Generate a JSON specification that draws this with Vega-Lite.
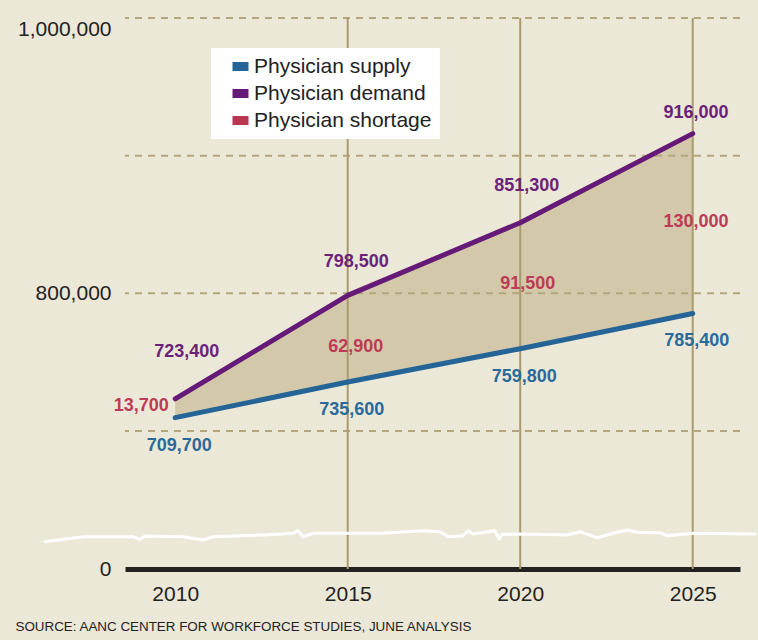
{
  "$schema": "https://vega.github.io/schema/vega-lite/v6.json",
  "width": 615,
  "height": 551,
  "autosize": {"type": "none"},
  "padding": {"left": 125, "top": 18, "right": 18, "bottom": 71},
  "background": "#ece8d7",
  "config": {
    "font": "Liberation Sans",
    "view": {"stroke": null}
  },
  "datasets": {
    "main": [
      {"year": 2010, "supply": 709700, "demand": 723400, "shortage": 13700},
      {"year": 2015, "supply": 735600, "demand": 798500, "shortage": 62900},
      {"year": 2020, "supply": 759800, "demand": 851300, "shortage": 91500},
      {"year": 2025, "supply": 785400, "demand": 916000, "shortage": 130000}
    ],
    "hgrid": [{"value": 700000}, {"value": 800000}, {"value": 900000}, {"value": 1000000}],
    "vgrid": [{"year": 2015}, {"year": 2020}, {"year": 2025}],
    "wave": [
      {"year": 2006.23, "value": 138500},
      {"year": 2007.33, "value": 163800},
      {"year": 2008.78, "value": 163800},
      {"year": 2008.98, "value": 150600},
      {"year": 2009.13, "value": 167400},
      {"year": 2010.23, "value": 163800},
      {"year": 2010.81, "value": 147100},
      {"year": 2011.10, "value": 163800},
      {"year": 2012.55, "value": 172500},
      {"year": 2012.95, "value": 176000},
      {"year": 2013.42, "value": 181100},
      {"year": 2013.56, "value": 194300},
      {"year": 2013.71, "value": 163800},
      {"year": 2014.00, "value": 181100},
      {"year": 2015.94, "value": 181100},
      {"year": 2017.18, "value": 194300},
      {"year": 2017.68, "value": 189200},
      {"year": 2017.91, "value": 163800},
      {"year": 2018.34, "value": 167400},
      {"year": 2018.49, "value": 194300},
      {"year": 2018.63, "value": 177500},
      {"year": 2019.27, "value": 194300},
      {"year": 2019.39, "value": 150600},
      {"year": 2019.47, "value": 176000},
      {"year": 2020.00, "value": 177500},
      {"year": 2021.36, "value": 172500},
      {"year": 2021.73, "value": 189200},
      {"year": 2022.23, "value": 158800},
      {"year": 2022.69, "value": 181100},
      {"year": 2023.10, "value": 197800},
      {"year": 2023.39, "value": 186200},
      {"year": 2024.05, "value": 184100},
      {"year": 2024.26, "value": 168900},
      {"year": 2025.01, "value": 181100},
      {"year": 2026.81, "value": 177500}
    ]
  },
  "layer": [
    {
      "data": {"name": "main"},
      "mark": {"type": "area", "color": "#d3c9aa"},
      "encoding": {
        "x": {
          "field": "year",
          "type": "quantitative",
          "scale": {"type": "linear", "domain": [2008.545, 2026.37], "nice": false, "zero": false},
          "axis": {
            "values": [2010, 2015, 2020, 2025],
            "format": "d",
            "labelExpr": "format(datum.value, 'd')",
            "grid": false,
            "ticks": false,
            "domain": true,
            "domainColor": "#222222",
            "domainWidth": 5,
            "labelPadding": 14,
            "labelFontSize": 21,
            "labelColor": "#222222",
            "title": "SOURCE: AANC CENTER FOR WORKFORCE STUDIES, JUNE ANALYSIS",
            "titleAnchor": "start",
            "titleAlign": "left",
            "titleBaseline": "middle",
            "titleX": -110,
            "titleY": 57,
            "titleFontSize": 13.4,
            "titleFontWeight": "normal",
            "titleColor": "#222222"
          }
        },
        "y": {
          "field": "demand",
          "type": "quantitative",
          "scale": {"domain": [0, 700000, 1000000], "range": [551, 413, 0], "nice": false, "zero": false},
          "axis": {
            "values": [0, 800000, 1000000],
            "format": ",",
            "labelExpr": "format(datum.value, ',')",
            "grid": false,
            "domain": false,
            "ticks": false,
            "labelPadding": 14,
            "labelFontSize": 21,
            "labelColor": "#222222",
            "labelBaseline": {"condition": {"test": "datum.value == 1000000", "value": "top"}, "value": "middle"},
            "title": null
          }
        },
        "y2": {"field": "supply"}
      }
    },
    {
      "data": {"name": "hgrid"},
      "mark": {"type": "rule", "color": "#b2a67f", "strokeWidth": 2, "strokeDash": [7, 6]},
      "encoding": {"y": {"field": "value", "type": "quantitative"}}
    },
    {
      "data": {"name": "vgrid"},
      "mark": {"type": "rule", "color": "#a99b6f", "strokeWidth": 2},
      "encoding": {"x": {"field": "year", "type": "quantitative"}}
    },
    {
      "data": {"name": "main"},
      "transform": [{"fold": ["supply", "demand"], "as": ["series", "value"]}],
      "mark": {"type": "line", "strokeWidth": 5, "strokeCap": "round", "strokeJoin": "round"},
      "encoding": {
        "x": {"field": "year", "type": "quantitative"},
        "y": {"field": "value", "type": "quantitative"},
        "color": {
          "field": "series",
          "type": "nominal",
          "scale": {"domain": ["supply", "demand", "shortage"], "range": ["#256496", "#661a77", "#b93550"]},
          "legend": {
            "orient": "none",
            "legendX": 86,
            "legendY": 30,
            "title": null,
            "fillColor": "#ffffff",
            "padding": 8,
            "symbolType": "M-1,-0.56H1V0.56H-1Z",
            "symbolSize": 256,
            "symbolOffset": 11,
            "symbolStrokeWidth": 0,
            "labelOffset": 3,
            "rowPadding": 5,
            "labelFontSize": 21,
            "labelColor": "#222222",
            "labelLimit": 300,
            "labelExpr": "'Physician ' + datum.label",
            "encode": {"symbols": {"update": {"fill": {"scale": "color", "field": "value"}, "strokeWidth": {"value": 0}, "opacity": {"value": 1}}}}
          }
        }
      }
    },
    {
      "data": {"name": "wave"},
      "mark": {"type": "line", "color": "#ffffff", "strokeWidth": 3, "clip": false, "strokeJoin": "round", "strokeCap": "round"},
      "encoding": {"x": {"field": "year", "type": "quantitative"}, "y": {"field": "value", "type": "quantitative"}}
    },
    {
      "data": {"name": "main"},
      "mark": {"type": "text", "fontSize": 18, "fontWeight": "bold", "color": "#2a6a9b", "dx": 4, "dy": 28, "baseline": "middle"},
      "encoding": {"x": {"field": "year", "type": "quantitative"}, "y": {"field": "supply", "type": "quantitative"}, "text": {"field": "supply", "type": "quantitative", "format": ","}}
    },
    {
      "data": {"name": "main"},
      "transform": [{"filter": "datum.year == 2010"}],
      "mark": {"type": "text", "fontSize": 18, "fontWeight": "bold", "color": "#6a2379", "dx": 11.5, "dy": -47, "baseline": "middle"},
      "encoding": {"x": {"field": "year", "type": "quantitative"}, "y": {"field": "demand", "type": "quantitative"}, "text": {"field": "demand", "type": "quantitative", "format": ","}}
    },
    {
      "data": {"name": "main"},
      "transform": [{"filter": "datum.year == 2015"}],
      "mark": {"type": "text", "fontSize": 18, "fontWeight": "bold", "color": "#6a2379", "dx": 8.6, "dy": -33, "baseline": "middle"},
      "encoding": {"x": {"field": "year", "type": "quantitative"}, "y": {"field": "demand", "type": "quantitative"}, "text": {"field": "demand", "type": "quantitative", "format": ","}}
    },
    {
      "data": {"name": "main"},
      "transform": [{"filter": "datum.year == 2020"}],
      "mark": {"type": "text", "fontSize": 18, "fontWeight": "bold", "color": "#6a2379", "dx": 6.6, "dy": -37, "baseline": "middle"},
      "encoding": {"x": {"field": "year", "type": "quantitative"}, "y": {"field": "demand", "type": "quantitative"}, "text": {"field": "demand", "type": "quantitative", "format": ","}}
    },
    {
      "data": {"name": "main"},
      "transform": [{"filter": "datum.year == 2025"}],
      "mark": {"type": "text", "fontSize": 18, "fontWeight": "bold", "color": "#6a2379", "dx": 3.3, "dy": -21, "baseline": "middle"},
      "encoding": {"x": {"field": "year", "type": "quantitative"}, "y": {"field": "demand", "type": "quantitative"}, "text": {"field": "demand", "type": "quantitative", "format": ","}}
    },
    {
      "data": {"name": "main"},
      "transform": [{"filter": "datum.year == 2010"}],
      "mark": {"type": "text", "fontSize": 18, "fontWeight": "bold", "color": "#bd3b54", "dx": -34, "dy": -11.5, "baseline": "middle"},
      "encoding": {"x": {"field": "year", "type": "quantitative"}, "y": {"field": "supply", "type": "quantitative"}, "text": {"field": "shortage", "type": "quantitative", "format": ","}}
    },
    {
      "data": {"name": "main"},
      "transform": [{"filter": "datum.year == 2015"}],
      "mark": {"type": "text", "fontSize": 18, "fontWeight": "bold", "color": "#bd3b54", "dx": 8, "dy": -34.6, "baseline": "middle"},
      "encoding": {"x": {"field": "year", "type": "quantitative"}, "y": {"field": "supply", "type": "quantitative"}, "text": {"field": "shortage", "type": "quantitative", "format": ","}}
    },
    {
      "data": {"name": "main"},
      "transform": [{"filter": "datum.year == 2020"}],
      "mark": {"type": "text", "fontSize": 18, "fontWeight": "bold", "color": "#bd3b54", "dx": 7.6, "dy": -64.6, "baseline": "middle"},
      "encoding": {"x": {"field": "year", "type": "quantitative"}, "y": {"field": "supply", "type": "quantitative"}, "text": {"field": "shortage", "type": "quantitative", "format": ","}}
    },
    {
      "data": {"name": "main"},
      "transform": [{"filter": "datum.year == 2025"}],
      "mark": {"type": "text", "fontSize": 18, "fontWeight": "bold", "color": "#bd3b54", "dx": 3.3, "dy": -91, "baseline": "middle"},
      "encoding": {"x": {"field": "year", "type": "quantitative"}, "y": {"field": "supply", "type": "quantitative"}, "text": {"field": "shortage", "type": "quantitative", "format": ","}}
    }
  ]
}
